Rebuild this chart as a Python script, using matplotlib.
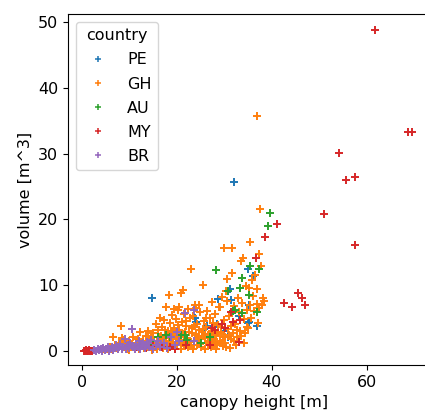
import matplotlib
matplotlib.use("Agg")
import matplotlib.pyplot as plt
from matplotlib.lines import Line2D

# canopy height [m], volume [m^3] per country
pe_h = [32.0, 14.7, 35.0, 36.1, 31.2, 28.6, 31.5, 35.1, 35.1, 36.9, 30.7, 28.4,
        26.3, 24.0, 35.0, 23.8, 19.0, 22.0, 26.0, 33.0, 17.5, 30.0]
pe_v = [25.7, 8.0, 12.4, 11.4, 9.4, 7.8, 7.7, 7.0, 4.3, 3.7, 2.1, 4.1,
        3.7, 4.3, 4.2, 5.0, 3.0, 1.0, 2.5, 5.2, 2.2, 3.0]

gh_h = [4.5, 5.2, 5.8, 6.3, 6.6, 7.0, 7.4, 7.9, 8.2, 8.4, 8.7, 9.0, 9.3, 9.6,
        10.0, 10.3, 10.7, 11.0, 11.4, 11.8, 12.2, 12.5, 12.8, 13.1, 13.4, 13.7,
        14.0, 14.3, 14.6, 15.0, 15.3, 15.5, 15.8, 16.0, 16.2, 16.5, 16.7, 16.9,
        17.1, 17.3, 17.5, 17.7, 17.9, 18.1, 18.3, 18.4, 18.6, 18.8, 19.0, 19.2,
        19.4, 19.6, 19.8, 20.0, 20.2, 20.4, 20.5, 20.7, 20.8, 21.0, 21.2, 21.3,
        21.5, 21.7, 21.9, 22.1, 22.3, 22.5, 22.7, 22.9, 23.0, 23.2, 23.4, 23.6,
        23.8, 24.0, 24.1, 24.3, 24.5, 24.7, 24.9, 25.1, 25.3, 25.6, 25.8, 26.0,
        26.2, 26.4, 26.6, 26.8, 27.0, 27.2, 27.4, 27.6, 27.8, 28.0, 28.2, 28.4,
        28.6, 28.8, 29.0, 29.1, 29.3, 29.5, 29.7, 29.9, 30.0, 30.2, 30.4, 30.5,
        30.6, 30.8, 31.0, 31.2, 31.4, 31.6, 31.7, 31.9, 32.1, 32.3, 32.5, 32.7,
        32.9, 33.1, 33.5, 33.6, 33.8, 34.0, 34.2, 34.4, 34.6, 34.8, 35.0, 35.2,
        35.4, 35.5, 35.7, 35.9, 36.1, 36.3, 36.5, 36.8, 36.8, 36.9, 37.0, 37.2,
        37.3, 37.5, 37.7, 37.9, 38.1, 38.3,
        15.9, 16.4, 17.0, 17.6, 18.2, 18.9, 19.5, 20.1, 20.9, 21.6, 22.4, 23.3,
        24.2, 25.0, 25.9, 26.7, 27.5, 28.3, 29.4, 30.3, 9.9, 12.0, 13.9, 14.8,
        18.5, 19.1, 19.8, 20.3, 20.9, 21.4, 21.8, 22.6, 23.1, 23.7, 24.4, 24.8,
        25.4, 25.7, 26.1, 26.5, 27.1, 27.7, 28.1, 28.7, 29.2, 29.8, 30.1, 30.9,
        31.5, 32.0, 32.6, 33.3, 34.1, 34.7, 22.0, 24.6, 19.3, 17.4, 16.6]
gh_v = [0.2, 0.3, 0.5, 0.2, 2.1, 0.8, 0.4, 1.2, 3.7, 1.9, 1.6, 0.6, 1.0, 0.3,
        1.4, 0.8, 2.0, 0.5, 1.2, 1.8, 2.9, 0.9, 1.5, 0.4, 2.2, 1.1,
        3.0, 0.7, 1.9, 2.6, 0.5, 4.1, 1.3, 3.2, 2.0, 5.0, 0.9, 3.6,
        1.7, 4.6, 2.4, 6.7, 0.6, 3.0, 8.4, 1.9, 4.2, 2.7, 5.4, 1.2,
        3.5, 2.2, 4.8, 0.8, 6.1, 6.7, 3.1, 1.6, 8.7, 4.4, 9.2, 2.5,
        5.6, 0.7, 3.8, 1.9, 6.3, 2.9, 4.9, 12.4, 1.3, 3.4, 5.2, 0.9,
        7.0, 6.5, 2.4, 4.0, 1.6, 3.1, 5.8, 0.6, 2.8, 10.0, 4.5, 1.9,
        3.6, 6.0, 1.1, 2.5, 4.9, 0.5, 7.4, 3.0, 1.7, 5.5, 2.3, 0.9,
        3.9, 6.6, 1.4, 6.7, 2.9, 8.2, 0.7, 4.6, 15.6, 2.0, 9.0, 7.6,
        10.9, 3.3, 5.2, 0.4, 1.8, 11.8, 15.6, 2.7, 6.8, 4.0, 0.8, 3.1,
        8.0, 5.9, 13.7, 2.2, 7.2, 14.1, 4.8, 2.6, 9.8, 6.1, 3.5, 9.6,
        7.0, 16.6, 5.0, 10.8, 8.3, 6.0, 11.5, 7.1, 9.4, 35.7, 4.2, 14.7,
        6.5, 21.5, 12.9, 6.9, 8.0, 7.5,
        0.2, 1.0, 0.4, 1.2, 0.3, 0.9, 0.2, 1.9, 0.3, 1.3, 0.5, 0.2,
        0.9, 1.7, 0.3, 0.8, 1.5, 0.2, 1.1, 0.6, 0.1, 0.3, 0.5, 0.1,
        1.5, 2.6, 1.1, 3.9, 2.2, 1.0, 2.9, 1.5, 2.6, 3.8, 2.0, 1.0,
        3.3, 2.2, 5.0, 1.5, 2.8, 4.2, 1.2, 2.6, 3.6, 2.0, 1.2, 2.4,
        3.8, 1.4, 2.0, 3.0, 1.1, 3.6, 4.5, 6.9, 6.3, 3.2, 2.2]

au_h = [39.6, 39.3, 35.4, 37.3, 28.2, 33.7, 33.2, 30.8, 35.1, 36.8, 32.2, 33.7,
        31.9, 16.0, 17.8, 21.7, 20.8, 22.1, 18.5, 12.0, 25.0, 14.5, 27.0]
au_v = [21.0, 19.0, 12.9, 12.4, 12.2, 11.1, 9.5, 9.0, 8.4, 5.8, 6.2, 5.7,
        6.0, 2.1, 2.4, 2.4, 2.4, 1.6, 2.0, 1.0, 1.2, 1.5, 2.0]

my_h = [61.7, 68.8, 69.6, 54.2, 55.6, 57.6, 50.9, 57.6, 41.0, 38.6, 36.6, 42.6,
        44.3, 45.6, 46.4, 46.9, 31.4, 31.9, 33.3, 33.1, 27.3, 28.0, 27.0, 11.6,
        13.5, 15.0, 16.8, 18.5, 19.5, 22.0, 0.5, 0.7, 0.9, 1.1, 1.3, 1.5, 1.7,
        1.9, 2.1, 29.6, 30.2]
my_v = [48.8, 33.3, 33.3, 30.1, 25.9, 26.4, 20.8, 16.1, 19.3, 17.3, 14.1, 7.3,
        6.7, 8.7, 8.0, 7.0, 5.9, 4.4, 4.7, 1.3, 3.4, 3.1, 0.9, 0.6,
        0.4, 0.7, 0.5, 0.6, 0.3, 0.8, 0.0, 0.0, 0.1, 0.0, 0.0, 0.1, 0.0,
        0.0, 0.0, 4.1, 3.5]

br_h = [2.6, 3.0, 3.3, 3.6, 3.9, 4.2, 4.5, 4.8, 5.1, 5.4, 5.7, 6.0, 6.3, 6.6,
        6.9, 7.2, 7.5, 7.8, 8.1, 8.4, 8.7, 9.1, 9.3, 9.6, 9.9, 10.2, 10.5, 10.8,
        11.1, 11.4, 11.7, 12.0, 12.3, 12.6, 12.9, 13.2, 13.5, 13.8, 14.2, 14.6,
        15.0, 15.5, 16.0, 16.5, 17.2, 18.0, 18.8, 19.6, 20.5, 21.8, 23.6, 23.5,
        20.0]
br_v = [0.1, 0.0, 0.2, 0.1, 0.3, 0.0, 0.4, 0.1, 0.2, 0.5, 0.0, 0.3, 0.6, 0.1,
        0.4, 0.8, 0.2, 0.5, 1.0, 0.3, 0.6, 1.7, 0.2, 0.9, 0.4, 1.2, 3.3, 0.6,
        0.3, 1.0, 0.5, 1.4, 0.2, 0.8, 1.1, 0.4, 0.7, 1.3, 0.5, 1.6,
        0.3, 0.9, 1.4, 0.6, 1.1, 0.4, 2.0, 0.8, 1.5, 5.7, 6.2, 1.4,
        2.8]

countries = ["PE", "GH", "AU", "MY", "BR"]
heights = [pe_h, gh_h, au_h, my_h, br_h]
volumes = [pe_v, gh_v, au_v, my_v, br_v]

plt.rcParams['font.size'] = 11.5

fig = plt.figure(figsize=(4.25, 4.18), dpi=100)
# axes runs past the right edge of the picture, as in the reference
ax = fig.add_axes([68 / 425, 53 / 418, 372 / 425, 351 / 418])
ax.spines['right'].set_visible(False)

handles = []
for i, c in enumerate(countries):
    ax.scatter(heights[i], volumes[i], marker="+", s=28, linewidths=1.4,
               color="C%d" % i)
    handles.append(Line2D([], [], linestyle="", marker="+", markersize=4.5,
                          markeredgewidth=1.1, color="C%d" % i, label=c))

ax.set_xlim(-2.95, -2.95 + 372 / 4.745)
ax.set_ylim(-2.2, 51.25)
ax.set_xlabel("canopy height [m]")
ax.set_ylabel("volume [m^3]")
ax.set_xticks([0, 20, 40, 60])
ax.set_yticks([0, 10, 20, 30, 40, 50])
ax.legend(handles=handles, title="country", loc="upper left", labelspacing=0.57)

fig.savefig("out.png", dpi=100)
